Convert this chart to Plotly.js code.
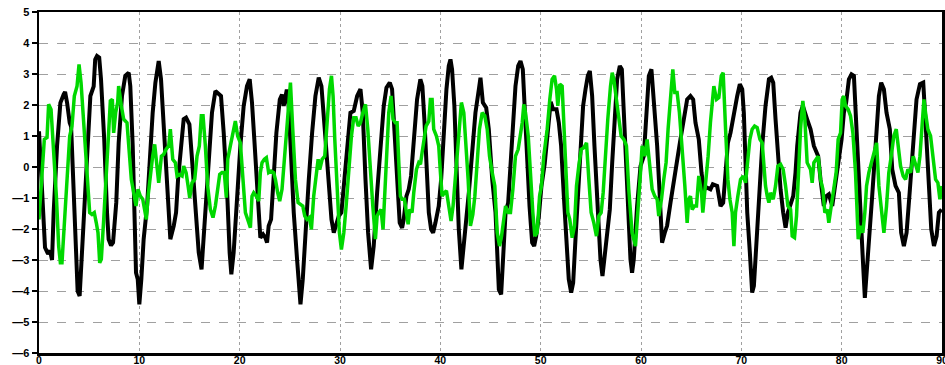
<!DOCTYPE html>
<html><head><meta charset="utf-8">
<script src="https://cdn.plot.ly/plotly-3.0.1.min.js"></script>
<style>html,body{margin:0;padding:0;background:#fff}#chart{width:945px;height:365px}</style>
</head><body><div id="chart"></div>
<script>
// [x, y] vertices
const blackSeries = [
[0,1.15],[0.3,-1.0],[0.6,-2.6],[0.9,-2.8],[1.1,-2.7],[1.3,-3.0],[1.46,-1.47],[1.8,0.68],[2.13,2.07],[2.46,2.34],[2.6,2.42],[2.8,2.07],[2.95,1.6],[3.06,1.43],[3.2,1.3],[3.85,-4.0],[4.05,-4.16],[4.45,-1.69],[4.78,0.46],[5.12,2.29],[5.45,2.6],[5.6,3.47],[5.78,3.58],[6.0,3.53],[6.18,2.83],[6.5,0.89],[6.78,-1.47],[6.94,-2.33],[7.18,-2.53],[7.38,-2.44],[7.7,-1.15],
[7.94,0.78],[8.27,2.29],[8.6,2.94],[8.94,3.04],[9.1,2.61],[9.34,0.68],[9.54,-1.47],[9.67,-3.41],[9.84,-3.62],[10.0,-4.43],[10.2,-3.62],[10.43,-2.33],[10.77,-1.26],[11.03,0.25],[11.33,1.75],[11.6,2.72],[11.93,3.42],[12.16,2.83],[12.43,1.22],[12.76,-0.94],[13.09,-2.33],[13.43,-1.9],[13.66,-1.47],[13.86,-0.4],[14.12,0.68],[14.42,1.54],[14.66,1.59],[14.99,1.38],[15.25,0.25],[15.59,-1.47],[15.92,-2.76],[16.2,-3.3],
[16.58,-1.47],[16.91,0.35],[17.24,1.75],[17.58,2.45],[17.91,2.34],[18.14,2.29],[18.41,1.1],[18.74,-0.72],[19.0,-2.76],[19.17,-3.46],[19.4,-2.76],[19.74,-0.83],[20.07,0.68],[20.4,1.97],[20.73,2.61],[21.0,2.83],[21.23,2.07],[21.46,0.89],[21.73,-0.4],[21.9,-1.47],[22.06,-2.28],[22.33,-2.17],[22.56,-2.28],[22.73,-2.44],[22.89,-1.9],[23.13,-1.69],[23.39,-0.18],[23.66,1.1],[24.0,2.18],[24.22,2.34],[24.39,1.97],[24.55,2.24],[24.7,2.5],[24.9,1.9],
[25.1,0.3],[25.39,-1.47],[25.72,-2.98],[25.96,-3.84],[26.06,-4.43],[26.29,-3.62],[26.55,-2.12],[26.89,-0.4],[27.22,1.1],[27.55,2.29],[27.88,2.88],[28.15,2.61],[28.48,1.22],[28.81,-0.4],[29.15,-1.69],[29.38,-2.12],[29.61,-1.9],[29.88,-1.58],[30.14,-1.47],[30.38,-0.61],[30.71,0.68],[31.04,1.75],[31.37,1.81],[31.71,2.29],[32.04,2.51],[32.27,1.75],[32.54,-0.4],[32.8,-2.12],[33.1,-3.3],
[33.36,-2.55],[33.7,-0.83],[34.03,0.68],[34.36,1.97],[34.63,2.56],[34.96,2.72],[35.19,2.51],[35.42,1.33],[35.69,-0.4],[35.95,-1.8],[36.19,-1.96],[36.35,-1.69],[36.62,-0.94],[36.85,-0.72],[37.08,-0.29],[37.35,0.89],[37.68,2.18],[38.01,2.83],[38.21,2.61],[38.41,1.54],[38.61,0.14],[38.85,-1.47],[39.08,-2.01],[39.28,-2.12],[39.51,-1.8],[39.84,-1.26],[40.08,-0.4],[40.34,1.1],[40.61,2.51],[40.84,3.26],[41.01,3.47],[41.17,3.15],[41.4,1.97],[41.6,0.14],[41.84,-2.01],
[42.1,-3.3],[42.5,-2.12],[42.84,-0.83],[43.17,0.46],[43.5,1.75],[43.84,2.51],[44.0,2.88],[44.24,2.08],[44.57,1.91],[44.83,1.22],[45.17,-0.4],[45.5,-1.47],[45.67,-2.76],[45.83,-3.95],[46.06,-4.11],[46.26,-3.09],[46.5,-1.47],[46.76,-1.15],[46.99,0.03],[47.23,1.75],[47.49,2.61],[47.76,3.26],[47.99,3.42],[48.22,3.15],[48.42,1.75],[48.66,0.14],[48.89,-1.26],[49.15,-2.44],[49.35,-2.55],[49.55,-2.23],[49.82,-1.58],[50.08,-0.61],
[50.4,0.1],[50.7,1.1],[51.0,2.1],[51.24,1.86],[51.58,1.86],[51.81,1.43],[52.04,0.68],[52.31,-0.94],[52.57,-2.55],[52.8,-3.62],[53.04,-4.05],[53.24,-3.73],[53.47,-2.33],[53.7,-0.94],[53.97,0.35],[54.23,1.97],[54.47,2.51],[54.7,2.94],[54.9,3.1],[55.13,2.29],[55.36,0.68],[55.63,-0.94],[55.8,-2.12],[55.96,-2.98],[56.16,-3.52],[56.36,-2.98],[56.63,-2.12],[56.89,-1.37],[57.13,0.14],[57.36,1.54],[57.62,2.83],[57.89,3.26],[58.09,3.15],[58.29,1.75],[58.55,-0.18],
[58.78,-1.47],[58.95,-2.98],[59.11,-3.41],[59.28,-2.98],[59.61,-1.26],[59.95,0.03],[60.28,0.35],[60.51,1.54],[60.78,2.94],[61.04,3.15],[61.27,2.29],[61.61,0.68],[61.87,-0.94],[62.1,-2.44],[62.37,-2.12],[62.6,-1.9],[62.94,-1.15],[63.27,-0.4],[63.6,0.35],[63.93,0.89],[64.27,1.54],[64.6,2.18],[64.93,2.29],[65.2,2.18],[65.43,1.43],[65.76,0.89],[66.03,-0.18],[66.26,-0.72],[66.59,-0.67],[66.92,-0.72],[67.16,-0.56],
[67.59,-0.61],[67.93,-1.26],[68.19,-1.15],[68.43,-0.18],[68.66,0.78],[68.92,1.1],[69.26,1.75],[69.59,2.29],[69.85,2.67],[70.09,2.51],[70.25,1.75],[70.42,0.14],[70.59,-1.47],[70.85,-2.76],[71.08,-4.05],[71.25,-3.84],[71.52,-2.33],[71.75,-1.04],[72.08,0.68],[72.41,1.97],[72.75,2.83],[72.98,2.88],[73.18,2.72],[73.41,1.54],[73.64,0.46],[73.91,-0.72],[74.17,-1.47],[74.41,-1.96],[74.64,-1.47],[74.91,-1.15],[75.17,-0.94],[75.4,-0.18],
[75.57,0.68],[75.9,1.75],[76.13,1.97],[76.56,1.54],[76.9,1.22],[77.23,0.68],[77.46,0.52],[77.66,0.35],[77.89,-0.4],[78.22,-1.26],[78.46,-0.94],[78.72,-0.88],[79.06,-1.26],[79.32,-0.61],[79.65,0.03],[79.99,0.89],[80.22,1.75],[80.45,2.08],[80.72,2.83],[80.98,2.99],[81.22,2.94],[81.38,1.75],[81.65,-0.18],[81.88,-1.8],[82.11,-2.98],[82.31,-4.22],
[82.71,-2.55],[83.04,-0.94],[83.38,0.68],[83.71,2.29],[83.94,2.72],[84.21,2.51],[84.47,1.75],[84.8,1.22],[85.04,-0.08],[85.37,-0.61],[85.7,-0.83],[85.93,-2.12],[86.2,-2.55],[86.47,-2.12],[86.8,-0.72],[87.13,0.89],[87.46,2.18],[87.8,2.67],[88.13,2.72],[88.36,1.43],[88.69,-0.4],[88.93,-2.01],[89.2,-2.55],[89.46,-2.23],[89.69,-1.47],[89.96,-1.37]
];
const greenSeries = [
[0.0,-1.69],[0.3,-0.18],[0.53,0.89],[0.8,0.95],[0.96,2.02],[1.2,1.86],[1.46,0.68],[1.73,-0.94],[1.96,-2.55],[2.13,-3.09],[2.29,-3.09],[2.46,-2.12],[2.72,-0.61],[3.06,1.0],[3.29,1.32],[3.52,2.29],[3.79,2.61],[3.99,3.31],[4.19,2.72],[4.39,1.75],[4.62,0.35],[4.85,-0.72],[5.05,-1.47],[5.28,-1.53],[5.51,-1.47],[5.71,-1.8],[5.88,-2.12],[6.05,-3.09],[6.21,-2.98],[6.45,-1.69],[6.71,-0.4],[6.94,1.1],[7.11,2.13],[7.31,2.18],[7.44,1.1],[7.64,1.75],[7.84,2.08],
[7.94,2.61],[8.21,1.97],[8.44,1.54],[8.77,1.43],[9.0,0.57],[9.2,-0.4],[9.44,-0.83],[9.67,-1.26],[9.87,-0.72],[10.1,-0.94],[10.34,-1.04],[10.53,-1.37],[10.7,-1.69],[10.87,-0.94],[11.1,-0.18],[11.33,0.35],[11.53,0.73],[11.76,0.14],[11.93,-0.51],[12.2,0.35],[12.43,0.41],[12.66,0.57],[12.93,0.68],[13.09,1.22],[13.33,0.25],[13.59,0.14],[13.76,-0.29],[13.99,-0.24],[14.26,-0.29],[14.42,0.03],[14.66,-0.18],[14.86,-0.61],[15.02,-0.99],[15.25,-0.51],[15.52,-0.4],[15.75,0.35],[15.98,0.68],[16.18,1.65],
[16.35,1.65],[16.58,0.68],[16.81,-0.61],[17.08,-1.37],[17.34,-1.63],[17.58,-1.26],[17.81,-0.61],[18.01,-0.24],[18.24,-0.18],[18.47,-0.18],[18.67,-0.99],[18.81,0.25],[19.07,0.68],[19.34,1.1],[19.57,1.48],[19.8,1.0],[20.07,0.78],[20.33,-0.4],[20.57,-1.47],[20.8,-1.69],[21.07,-1.96],[21.23,-0.94],[21.4,-0.83],[21.66,-0.94],[21.9,-1.1],[22.06,-0.18],[22.23,0.14],[22.46,0.25],[22.66,0.3],[22.89,-0.18],[23.13,-0.13],[23.39,-0.18],[23.56,-0.4],[23.79,-0.83],[23.99,-1.1],[24.22,-0.72],[24.46,0.25],[24.65,1.22],
[25.06,2.72],[25.29,1.22],[25.56,-0.4],[25.82,-1.15],[26.06,-1.2],[26.29,-1.26],[26.49,-1.58],[26.72,-1.69],[26.95,-1.63],[27.15,-2.01],[27.38,-0.94],[27.62,-0.18],[27.82,0.25],[27.98,-0.08],[28.22,0.25],[28.48,0.35],[28.72,1.54],[28.95,2.51],[29.15,2.94],[29.31,2.29],[29.48,0.89],[29.71,-0.94],[29.94,-2.12],[30.14,-2.66],[30.38,-2.12],[30.61,-1.26],[30.87,-0.18],[31.14,1.0],[31.37,1.59],[31.6,1.59],[31.81,1.32],[32.04,1.43],[32.27,1.75],[32.54,2.02],[32.77,1.22],[33.04,-0.4],[33.27,-1.26],
[33.53,-2.33],[33.7,-1.58],[33.86,-1.47],[34.09,-1.37],[34.29,-2.01],[34.43,-0.94],[34.63,0.46],[34.86,1.75],[35.09,2.29],[35.29,1.54],[35.52,1.43],[35.69,1.43],[35.86,0.14],[36.02,-0.94],[36.19,-1.04],[36.42,-1.04],[36.62,-1.47],[36.79,-1.85],[36.95,-1.37],[37.18,-1.47],[37.35,-0.83],[37.62,-0.08],[37.85,0.14],[38.02,0.09],[38.18,0.46],[38.35,0.89],[38.58,1.32],[38.85,1.48],[39.01,2.18],[39.18,2.18],[39.34,1.22],[39.61,1.0],[39.84,0.68],[40.01,-0.18],[40.18,-0.94],[40.41,-0.83],[40.61,-0.77],[40.84,-1.26],[41.07,-1.74],[41.27,-1.26],[41.5,-0.4],[41.74,0.68],
[42.1,2.08],[42.34,1.75],[42.57,0.68],[42.77,-0.4],[43.0,-1.9],[43.24,-1.53],[43.44,-0.94],[43.67,0.14],[43.9,1.22],[44.17,1.75],[44.43,1.65],[44.67,1.22],[44.9,0.35],[45.17,-0.18],[45.43,-0.61],[45.67,-2.12],[45.9,-2.55],[46.1,-2.23],[46.33,-1.58],[46.5,-1.26],[46.76,-1.47],[46.99,-1.47],[47.23,-0.72],[47.49,0.35],[47.76,0.57],[47.99,1.0],[48.16,1.43],[48.32,2.02],[48.49,1.75],[48.76,1.0],[48.99,-0.4],[49.22,-1.47],[49.42,-2.23],[49.65,-2.12],[49.89,-0.94],[50.08,-0.61],
[50.31,0.35],[50.65,1.22],[50.91,2.18],[51.14,2.83],[51.38,2.94],[51.58,2.51],[51.71,1.97],[51.91,2.67],[52.14,2.61],[52.31,1.54],[52.47,0.14],[52.71,-1.47],[52.9,-1.69],[53.14,-2.28],[53.37,-1.9],[53.57,-0.61],[53.8,0.03],[54.04,0.57],[54.3,0.62],[54.57,0.78],[54.8,-0.4],[55.03,-1.47],[55.3,-1.8],[55.56,-2.23],[55.8,-1.58],[56.03,-1.47],[56.23,-0.83],[56.46,0.46],[56.69,1.54],[56.96,2.61],[57.13,3.04],[57.29,2.83],[57.56,2.18],[57.79,1.65],[58.02,1.0],[58.29,0.89],[58.55,0.68],
[58.78,-0.72],[59.11,-2.12],[59.45,-2.55],[59.71,-1.47],[59.95,-0.18],[60.11,0.68],[60.38,0.35],[60.61,0.89],[60.84,0.14],[61.11,-0.72],[61.37,-0.94],[61.61,-1.04],[61.77,-1.58],[62.04,-1.04],[62.27,-0.4],[62.5,0.14],[62.7,1.22],[62.94,2.29],[63.17,3.15],[63.37,2.4],[63.6,2.4],[63.83,1.75],[64.1,0.68],[64.37,-0.61],[64.6,-1.8],[64.76,-1.04],[64.93,-0.94],[65.1,-1.37],[65.33,-1.26],[65.53,-1.26],[65.76,-0.29],[66.03,-0.83],[66.16,-1.47],[66.43,-0.61],[66.69,0.35],[66.92,1.43],[67.16,2.29],
[67.26,2.61],[67.53,2.18],[67.76,2.24],[68.0,2.94],[68.19,3.04],[68.43,1.22],[68.66,-0.4],[68.86,-1.04],[69.09,-1.47],[69.26,-2.55],[69.42,-1.47],[69.65,-0.94],[69.92,-0.4],[70.19,-0.29],[70.42,-0.51],[70.65,0.25],[70.85,0.89],[71.08,1.22],[71.32,1.32],[71.58,1.27],[71.85,0.89],[72.08,0.78],[72.25,0.03],[72.41,-0.61],[72.58,-0.94],[72.75,-1.15],[72.91,-0.83],[73.18,-1.04],[73.41,-0.61],[73.64,0.03],[73.91,0.09],[74.17,-0.08],[74.41,-0.61],[74.64,-1.26],[74.91,-1.37],[75.07,-2.23],[75.3,-2.28],[75.5,-1.58],
[75.67,-0.4],[75.9,1.22],[76.13,2.13],[76.33,1.54],[76.56,0.14],[76.73,0.03],[76.9,-0.08],[77.06,-0.51],[77.23,0.14],[77.46,0.25],[77.66,0.35],[77.89,-0.4],[78.13,-0.72],[78.32,-1.47],[78.56,-1.37],[78.72,-1.8],[78.99,-1.15],[79.22,-0.72],[79.45,-0.18],[79.65,0.89],[79.89,1.1],[80.05,2.18],[80.22,2.29],[80.38,1.97],[80.65,1.86],[80.88,1.65],[81.12,1.1],[81.38,-0.18],[81.65,-2.33],[81.88,-1.9],[82.11,-2.12],[82.31,-1.47],
[82.48,-0.61],[82.71,-0.18],[82.94,0.14],[83.21,0.46],[83.48,0.78],[83.71,-0.61],[83.94,-1.26],[84.21,-2.12],[84.47,-1.26],[84.7,-0.18],[84.94,0.35],[85.2,1.0],[85.44,1.22],[85.6,0.68],[85.87,0.03],[86.13,-0.29],[86.37,-0.4],[86.6,-0.08],[86.87,-0.18],[87.13,0.35],[87.37,0.03],[87.6,-0.18],[87.8,0.35],[88.03,1.43],[88.2,2.18],[88.36,1.75],[88.59,1.22],[88.86,1.0],[89.12,0.14],[89.36,-0.4],[89.59,-0.51],[89.79,-1.04],[90.0,-0.61]
];
const xTicks = [0,10,20,30,40,50,60,70,80,90];
const yTicks = [-6,-5,-4,-3,-2,-1,0,1,2,3,4,5];

const traces = [
  {x: blackSeries.map(p=>p[0]), y: blackSeries.map(p=>p[1]), type:'scatter', mode:'lines',
   line:{color:'#000000', width:4}, hoverinfo:'skip'},
  {x: greenSeries.map(p=>p[0]), y: greenSeries.map(p=>p[1]), type:'scatter', mode:'lines',
   line:{color:'#00d800', width:3.5}, hoverinfo:'skip'}
];
const tickFont = {family:'Liberation Sans, Arial, sans-serif', size:11, color:'#000', weight:'bold'};
const layout = {
  width:945, height:365,
  margin:{l:39, r:3, t:12, b:12},
  paper_bgcolor:'#fff', plot_bgcolor:'#fff',
  showlegend:false,
  xaxis:{range:[0,90], tickvals:xTicks, ticktext:xTicks.map(String), automargin:false,
    showgrid:true, gridcolor:'#a0a0a0', gridwidth:1, griddash:'dot',
    showline:true, linecolor:'#000', linewidth:2.5, mirror:true, ticklabeloverflow:'allow',
    ticks:'', ticklabelstandoff:-4, tickfont:{family:'Liberation Sans, Arial, sans-serif', size:10.5, color:'#000', weight:'bold'}, zeroline:false},
  yaxis:{range:[-6,5], tickvals:yTicks, ticktext:yTicks.map(v=>v<0?'\u2014'+Math.abs(v):String(v)), automargin:false,
    showgrid:true, gridcolor:'#a0a0a0', gridwidth:1, griddash:'dash',
    showline:true, linecolor:'#000', linewidth:2.5, mirror:true,
    ticks:'outside', ticklen:5, tickwidth:1.5, tickcolor:'#000', tickfont:tickFont, zeroline:false}
};
Plotly.newPlot('chart', traces, layout, {staticPlot:true, displayModeBar:false});
</script></body></html>
